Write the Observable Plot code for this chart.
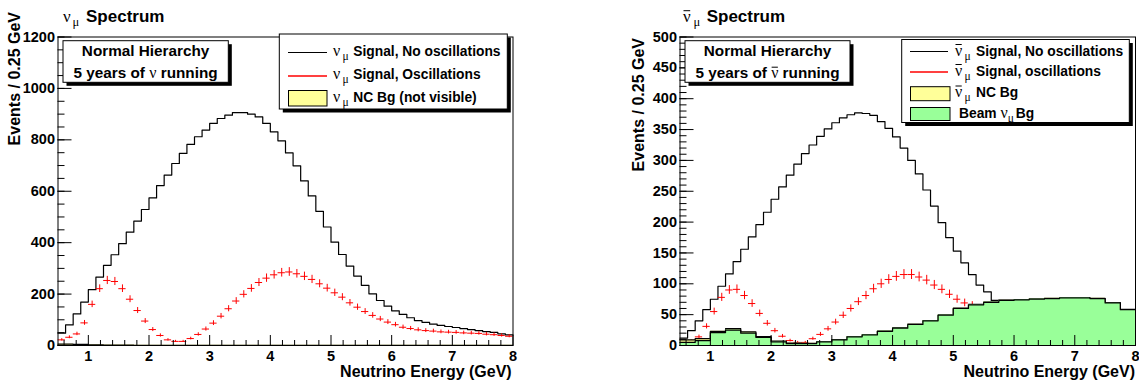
<!DOCTYPE html>
<html><head><meta charset="utf-8">
<script src="https://cdn.jsdelivr.net/npm/d3@7"></script>
<script src="https://cdn.jsdelivr.net/npm/@observablehq/plot@0.6"></script>
<style>
body{margin:0;background:#fff;}
#wrap{position:relative;width:1139px;height:384px;overflow:hidden;background:#fff;}
#wrap svg{position:absolute;top:0;}
</style></head><body><div id="wrap"></div>
<script>
// ---------------- data ----------------
const eMin = 0.5, eMax = 8;
const binWidthFine = 0.125;   // signal histograms
const binWidthCoarse = 0.25;  // background histograms

// Left panel: nu_mu, 60 bins of 0.125 GeV from 0.5 GeV
const numuNoOsc = [48,80,123,169,217,266,312,353,396,441,484,529,574,622,663,708,747,782,812,838,
  864,883,896,906,906,900,889,864,831,796,749,699,640,582,522,461,402,354,309,270,
  234,201,175,153,135,121,108,97,90,83,78,74,70,66,62,58,54,51,45,41];
const numuOsc = [22,32,45,88,160,221,253,249,221,180,136,95,62,39,22,16,16,27,43,64,
  87,114,143,173,199,222,245,262,275,283,286,279,269,257,240,223,205,188,166,149,
  132,117,103,91,81,71,66,61,58,56,53,52,51,49,48,47,44,42,39,36];
// NC background, 0.25 GeV bins (essentially invisible)
const numuNCBg = [5,4,3,2,2,1,1,1,1,1,1,1,1,1,1,1,1,1,1,1,1,1,1,1,1,1,1,1,1,1];

// Right panel: anti-nu_mu
const anuNoOsc = [12,24,40,58,75,96,116,136,156,176,196,216,237,257,276,294,311,325,339,351,
  361,369,374,377,376,373,363,352,338,320,300,278,252,226,199,175,153,134,115,98,87,73];
const anuOsc = [4,7,14,31,55,78,90,91,81,68,52,36,24,15,8,5,5,11,18,27,
  38,49,60,71,81,92,100,107,112,115,115,111,106,98,91,83,75,69,65];
const anuNCBg = [4,3,2,2.5,2,1.5,1,1,0.5,0.5,0.5,0.5,0.5,0.5,0.5,0.5,0.5,0.5,0.5,0.5,0.5,0.5,0.5,0.5,0.5,0.5,0.5,0.5,0.5,0.5];
const beamNumuBg = [5,8,21,25,20,13,6,3,3,6,9,14,17,23,28,34,40,49,60,66,70,73,74,75,76,77,77,76,69,58];

// axis ticks
const xMajor = [1,2,3,4,5,6,7,8];
const xMinor = d3.range(0.6, 7.9, 0.2).filter(v => Math.abs(v - Math.round(v)) > 1e-6);
const yMajorL = [0,200,400,600,800,1000,1200];
const yMinorL = d3.range(0, 1201, 50);
const yMajorR = [0,50,100,150,200,250,300,350,400,450,500];
const yMinorR = d3.range(0, 501, 10);

// ---------------- styles ----------------
const SANS = "'Liberation Sans', Arial, Helvetica, sans-serif";
const SERIF = "'Liberation Serif', 'Times New Roman', serif";
const RED = "#ff0000", YELLOW = "#ffff99", GREEN = "#99ff99";
const H = 384;
const NB = "\u00a0";

function stepData(values, w) {
  const d = values.map((v, i) => ({x: eMin + i * w, y: v}));
  d.push({x: eMin + values.length * w, y: values[values.length - 1]});
  return d;
}
function crossData(values, errScale) {
  return values.map((v, i) => ({x: eMin + (i + 0.5) * binWidthFine, y: v, e: Math.sqrt(v) * errScale}));
}
const hw = binWidthFine * 0.48;
function crossMarks(data) {
  return [
    Plot.ruleY(data, {x1: d => d.x - hw, x2: d => d.x + hw, y: "y", stroke: RED, strokeWidth: 1}),
    Plot.ruleX(data, {x: "x", y1: d => d.y - d.e, y2: d => d.y + d.e, stroke: RED, strokeWidth: 1})
  ];
}
function hist(values, w, fill) {
  const d = stepData(values, w);
  const m = [];
  if (fill) m.push(Plot.areaY(d, {x: "x", y: "y", curve: "step-after", fill}));
  m.push(Plot.line(d, {x: "x", y: "y", curve: "step-after", stroke: "black", strokeWidth: 1.2}));
  return m;
}

const wrap = d3.select("#wrap");
function panel({left, width, marginLeft, marginRight, yMax, yMajor, yMinor, marks}) {
  const p = Plot.plot({
    width, height: H, marginLeft, marginRight, marginTop: 36.5, marginBottom: 39,
    x: {domain: [eMin, eMax]},
    y: {domain: [0, yMax]},
    style: {fontFamily: SANS, fontSize: "14.5px", fontWeight: "bold", color: "black", background: "transparent", overflow: "visible"},
    marks: [
      ...marks,
      Plot.axisY(yMinor, {tickSize: -7, tickFormat: () => "", label: null}),
      Plot.axisY(yMajor, {tickSize: -14, tickFormat: () => "", label: null}),
      Plot.axisY(yMajor, {tickSize: 0, tickPadding: 3, tickFormat: d => String(d), label: null}),
      Plot.axisX(xMinor, {tickSize: -5, tickFormat: () => "", label: null}),
      Plot.axisX(xMajor, {tickSize: -10, tickFormat: () => "", label: null}),
      Plot.axisX(xMajor, {tickSize: 0, tickPadding: 5.5, tickFormat: d => String(d), label: null}),
      Plot.frame({stroke: "black", strokeWidth: 1})
    ]
  });
  p.style.left = left + "px";
  wrap.node().appendChild(p);
  return p;
}

panel({left: 0, width: 570, marginLeft: 57.5, marginRight: 57.5, yMax: 1200, yMajor: yMajorL, yMinor: yMinorL,
  marks: [
    ...hist(numuNCBg, binWidthCoarse, YELLOW),
    ...hist(numuNoOsc, binWidthFine, null),
    ...crossMarks(crossData(numuOsc, 1.0))
  ]});

const anuTotalBg = beamNumuBg.map((v, i) => v + anuNCBg[i]);
panel({left: 570, width: 569, marginLeft: 109.5, marginRight: 4, yMax: 500, yMajor: yMajorR, yMinor: yMinorR,
  marks: [
    ...hist(anuNoOsc, binWidthFine, null),
    ...crossMarks(crossData(anuOsc, 0.75)),
    ...hist(anuTotalBg, binWidthCoarse, YELLOW),
    ...hist(beamNumuBg, binWidthCoarse, GREEN)
  ]});

// ---------------- annotations overlay ----------------
const ov = wrap.append("svg").attr("width", 1139).attr("height", 384)
  .style("position", "absolute").style("left", "0px").style("top", "0px").style("pointer-events", "none");

function rich(parts, {x = 0, y, anchor = "start"}) {
  const g = ov.append("g");
  let cx = x;
  for (const p of parts) {
    if (p.x !== undefined) cx = p.x;
    const t = g.append("text")
      .attr("x", cx).attr("y", y + (p.dy || 0))
      .attr("font-family", p.serif ? SERIF : SANS)
      .attr("font-size", p.size)
      .attr("font-weight", p.serif ? "normal" : "bold")
      .attr("fill", "black")
      .text(p.t);
    const w = t.node().getComputedTextLength();
    if (p.bar) g.append("line").attr("x1", cx + 0.5).attr("x2", cx + w - 0.5)
      .attr("y1", y - p.bar).attr("y2", y - p.bar).attr("stroke", "black").attr("stroke-width", 1);
    cx += w + (p.gap || 0);
  }
  if (anchor !== "start") {
    const total = cx - x;
    g.attr("transform", `translate(${anchor === "middle" ? -total / 2 : -total},0)`);
  }
  return g;
}
function pave(x, y, w, h) {
  ov.append("rect").attr("x", x + 3.5).attr("y", y + 3.5).attr("width", w).attr("height", h).attr("fill", "black");
  ov.append("rect").attr("x", x).attr("y", y).attr("width", w).attr("height", h)
    .attr("fill", "white").attr("stroke", "black").attr("stroke-width", 1);
}
function sampleLine(x1, x2, y, color, sw = 1) {
  ov.append("line").attr("x1", x1).attr("x2", x2).attr("y1", y).attr("y2", y).attr("stroke", color).attr("stroke-width", sw);
}
function sampleBox(x, y, w, h, color) {
  ov.append("rect").attr("x", x).attr("y", y).attr("width", w).attr("height", h)
    .attr("fill", color).attr("stroke", "black").attr("stroke-width", 1);
}

// titles
rich([{t: "ν", serif: true, size: 17, x: 63}, {t: "μ", serif: true, size: 12.5, dy: 4.5, x: 72.5}, {t: "Spectrum", size: 17, x: 86}], {y: 21.7});
rich([{t: "ν", serif: true, size: 17, x: 683, bar: 11}, {t: "μ", serif: true, size: 12.5, dy: 4.5, x: 693.5}, {t: "Spectrum", size: 17, x: 706.7}], {y: 21.7});

// axis titles
function yTitle(x, y) {
  ov.append("text").attr("transform", `translate(${x},${y}) rotate(-90)`).attr("text-anchor", "end")
    .attr("font-family", SANS).attr("font-weight", "bold").attr("font-size", 16).attr("fill", "black")
    .text("Events / 0.25 GeV");
}
yTitle(20, 12);
yTitle(644, 38);
function xTitle(x) {
  ov.append("text").attr("x", x).attr("y", 376.5).attr("text-anchor", "end")
    .attr("font-family", SANS).attr("font-weight", "bold").attr("font-size", 16).attr("fill", "black")
    .text("Neutrino Energy (GeV)");
}
xTitle(511.7);
xTitle(1135);

// text boxes
pave(63, 40.7, 165.3, 41.6);
rich([{t: "Normal Hierarchy", size: 15.3}], {x: 145.6, y: 55.7, anchor: "middle"});
rich([{t: "5 years of" + NB, size: 15.3}, {t: "ν", serif: true, size: 16}, {t: NB + "running", size: 15.3}], {x: 145.6, y: 77.7, anchor: "middle"});

pave(685, 40.7, 165, 41.6);
rich([{t: "Normal Hierarchy", size: 15.3}], {x: 767.5, y: 55.7, anchor: "middle"});
rich([{t: "5 years of" + NB, size: 15.3}, {t: "ν", serif: true, size: 16, bar: 10.5}, {t: NB + "running", size: 15.3}], {x: 767.5, y: 77.7, anchor: "middle"});

// legends
const LS = 13.8;
pave(279.3, 34, 228, 75);
sampleLine(288, 327, 52.5, "black");
rich([{t: "ν", serif: true, size: 16, x: 333}, {t: "μ", serif: true, size: 11.5, dy: 4, x: 342.5}, {t: "Signal, No oscillations", size: LS, x: 353.3}], {y: 56.3});
sampleLine(288, 327, 76, RED, 1.3);
rich([{t: "ν", serif: true, size: 16, x: 333}, {t: "μ", serif: true, size: 11.5, dy: 4, x: 342.5}, {t: "Signal, Oscillations", size: LS, x: 353.3}], {y: 79});
sampleBox(288.5, 90.5, 38.5, 15.5, YELLOW);
rich([{t: "ν", serif: true, size: 16, x: 333}, {t: "μ", serif: true, size: 11.5, dy: 4, x: 342.5}, {t: "NC Bg (not visible)", size: LS, x: 353.3}], {y: 101.5});

pave(901.7, 39.5, 227.6, 83);
sampleLine(910, 948, 51.5, "black");
rich([{t: "ν", serif: true, size: 16, x: 955, bar: 11}, {t: "μ", serif: true, size: 11.5, dy: 4, x: 964.5}, {t: "Signal, No oscillations", size: LS, x: 976}], {y: 55.5});
sampleLine(910, 948, 72, RED, 1.3);
rich([{t: "ν", serif: true, size: 16, x: 955, bar: 11}, {t: "μ", serif: true, size: 11.5, dy: 4, x: 964.5}, {t: "Signal, oscillations", size: LS, x: 976}], {y: 75.5});
sampleBox(910.5, 86.7, 39.5, 14, YELLOW);
rich([{t: "ν", serif: true, size: 16, x: 955, bar: 11}, {t: "μ", serif: true, size: 11.5, dy: 4, x: 964.5}, {t: "NC Bg", size: LS, x: 976}], {y: 97});
sampleBox(910.5, 107.5, 39.5, 13, GREEN);
rich([{t: "Beam" + NB, size: LS, x: 959}, {t: "ν", serif: true, size: 16}, {t: "μ", serif: true, size: 11.5, dy: 4, gap: 2}, {t: "Bg", size: LS}], {y: 117.5});
</script>
</body></html>
